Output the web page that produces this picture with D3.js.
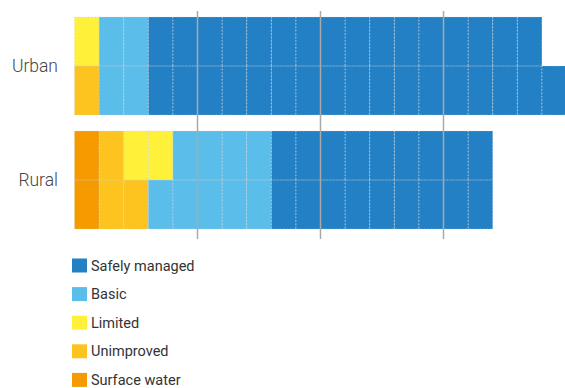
<!DOCTYPE html>
<html>
  <head>
    <meta charset="utf-8" />
    <title>Water access</title>
    <script src="https://d3js.org/d3.v7.min.js" charset="utf-8"></script>
    <style>
      body { margin: 0; background: #fff; }
      svg { display: block; font-family: "Roboto", sans-serif; }
    </style>
  </head>
  <body>
    <svg id="canvas" width="565" height="388"></svg>
    <script>
      // data
      var groups = ["Urban", "Rural"];
      var series = ["Surface water", "Unimproved", "Limited", "Basic", "Safely managed"];
      var colors = ["#f59b00", "#fdc41f", "#fff03a", "#5bbde9", "#2380c4"];
      // two rows per group, cells per series (left to right)
      var urbanRows = [[0, 0, 1, 2, 16], [0, 1, 0, 2, 17]];
      var ruralRows = [[1, 1, 2, 4, 9], [1, 2, 0, 5, 9]];
      var gridTicks = [5, 10, 15];
      var legendOrder = ["Safely managed", "Basic", "Limited", "Unimproved", "Surface water"];

      var rowsByGroup = { Urban: urbanRows, Rural: ruralRows };

      var canvas = d3.select("#canvas");

      var x = d3.scaleLinear().domain([0, 20]).range([74.5, 566.5]);
      var y = d3.scaleBand().domain(groups).range([17, 229]).paddingInner(16 / 114);
      var rowY = d3.scaleBand().domain([0, 1]).range([0, y.bandwidth()]);
      var color = d3.scaleOrdinal().domain(series).range(colors);

      // build cells
      var cells = [];
      groups.forEach(function (g) {
        rowsByGroup[g].forEach(function (row, ri) {
          var pos = 0;
          row.forEach(function (n, si) {
            for (var k = 0; k < n; k++) {
              cells.push({ group: g, row: ri, series: series[si], x0: pos, x1: pos + 1 });
              pos++;
            }
          });
        });
      });

      canvas.append("g")
        .selectAll("rect")
        .data(cells)
        .enter()
        .append("rect")
        .attr("x", function (d) { return x(d.x0); })
        .attr("y", function (d) { return y(d.group) + rowY(d.row); })
        .attr("width", function (d) { return x(d.x1) - x(d.x0); })
        .attr("height", rowY.bandwidth())
        .attr("fill", function (d) { return color(d.series); });

      // dotted cell outlines
      canvas.append("g")
        .selectAll("rect")
        .data(cells)
        .enter()
        .append("rect")
        .attr("x", function (d) { return x(d.x0); })
        .attr("y", function (d) { return y(d.group) + rowY(d.row); })
        .attr("width", function (d) { return x(d.x1) - x(d.x0); })
        .attr("height", rowY.bandwidth())
        .attr("fill", "none")
        .attr("stroke", "#c9d3dc")
        .attr("stroke-opacity", 0.6)
        .attr("stroke-width", 1)
        .attr("stroke-dasharray", "1.2,2.2");

      // grid lines
      canvas.append("g")
        .selectAll("line")
        .data(gridTicks)
        .enter()
        .append("line")
        .attr("x1", function (d) { return x(d); })
        .attr("x2", function (d) { return x(d); })
        .attr("y1", 11)
        .attr("y2", 239)
        .attr("stroke", "#a9a9a9")
        .attr("stroke-width", 1.5);

      // group labels
      canvas.append("g")
        .selectAll("text")
        .data(groups)
        .enter()
        .append("text")
        .attr("x", 58)
        .attr("y", function (d) { return y(d) + y.bandwidth() / 2; })
        .attr("dy", "0.35em")
        .attr("text-anchor", "end")
        .attr("fill", "#444")
        .style("font-size", "17.5px")
        .style("font-weight", 300)
        .text(function (d) { return d; });

      // legend
      var legend = canvas.append("g").attr("transform", "translate(72,258.5)");
      var item = legend.selectAll("g")
        .data(legendOrder)
        .enter()
        .append("g")
        .attr("transform", function (d, i) { return "translate(0," + i * 28.6 + ")"; });
      item.append("rect")
        .attr("width", 15)
        .attr("height", 14)
        .attr("fill", function (d) { return color(d); });
      item.append("text")
        .attr("x", 19)
        .attr("y", 7)
        .attr("dy", "0.35em")
        .attr("fill", "#333")
        .style("font-size", "14.5px")
        .text(function (d) { return d; });
    </script>
  </body>
</html>
